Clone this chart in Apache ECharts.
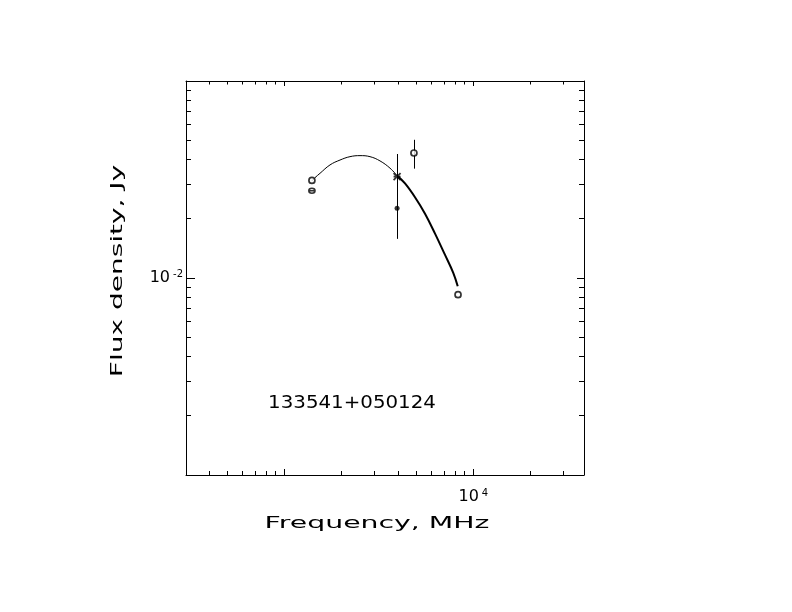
<!DOCTYPE html>
<html><head><meta charset="utf-8">
<script src="https://cdn.jsdelivr.net/npm/echarts@6/dist/echarts.min.js"></script>
<style>html,body{margin:0;padding:0;background:#fff}#c{width:792px;height:612px}</style>
</head><body><div id="c"></div>
<script>
// ---- data ----
const xMin = 302, xMax = 38500;      // MHz
const yMin = 0.001, yMax = 0.1;      // Jy
const xMajorTicks = [1000, 10000];
const xMinorTicks = [400, 500, 600, 700, 800, 900, 2000, 3000, 4000, 5000, 6000, 7000, 8000, 9000, 20000, 30000];
const yMajorTicks = [0.01];
const yMinorTicks = [0.002, 0.003, 0.004, 0.005, 0.006, 0.007, 0.008, 0.009, 0.02, 0.03, 0.04, 0.05, 0.06, 0.07, 0.08, 0.09];
const xLabelValues = [10000];
const yLabelValues = [0.01];

// fitted spectrum curve
const curveThinFreq = [1400, 1453, 1545, 1745, 1971, 2226, 2515, 2840, 3208, 3625, 3996];
const curveThinFlux = [0.0311, 0.0323, 0.0340, 0.0375, 0.0397, 0.0413, 0.0418, 0.0413, 0.0393, 0.0361, 0.0327];
const curveThickFreq = [3996, 4351, 4914, 5552, 6272, 7085, 7840, 8270];
const curveThickFlux = [0.0327, 0.0302, 0.0257, 0.0212, 0.0168, 0.0131, 0.0106, 0.00907];

// measurements
const openFreq = [1400, 4850, 8300];
const openFlux = [0.0313, 0.0431, 0.00823];
const openErr  = [0, 0.0072, 0];
const thetaFreq = [1400];
const thetaFlux = [0.0277];
const starFreq = [3950];
const starFlux = [0.0327];
const starErr  = [0.0099];
const dotFreq = [3950];
const dotFlux = [0.0226];
const dotErr  = [0.0068];

const sourceName = '133541+050124';
const xTitle = 'Frequency, MHz';
const yTitle = 'Flux density, Jy';

// ---- build chart ----
const zip = (a, b) => a.map((v, i) => [v, b[i]]);
const zip3 = (a, b, c) => a.map((v, i) => [v, b[i], c[i]]);
const FONT = 'DejaVu Sans';
const rich = {
  b: {fontSize: 16, fontFamily: FONT, color: '#000', lineHeight: 17},
  s: {fontSize: 10, fontFamily: FONT, color: '#000', lineHeight: 10, verticalAlign: 'top', padding: [0, 0, 0, 3]}
};
const expFmt = v => '{b|10}{s|' + Math.round(Math.log10(v)) + '}';
const G = {left: 186, top: 81, width: 398, height: 394};

function ax(kind, gi, pos, ticks, len, showLine, labels, margin) {
  return {
    type: 'log', logBase: 10, gridIndex: gi, position: pos,
    min: kind === 'x' ? xMin : yMin, max: kind === 'x' ? xMax : yMax,
    splitLine: {show: false},
    axisLine: {show: showLine, lineStyle: {color: '#000', width: 1}},
    axisTick: {show: true, inside: true, length: len, customValues: ticks, lineStyle: {color: '#000', width: 1}},
    axisLabel: labels ? {show: true, customValues: labels, formatter: expFmt, rich: rich, margin: margin} : {show: false}
  };
}

const xAxis = [
  ax('x', 0, 'bottom', xMajorTicks, 6, true, xLabelValues, 13),
  ax('x', 1, 'bottom', xMinorTicks, 4, false),
  ax('x', 2, 'top', xMajorTicks, 5, true),
  ax('x', 3, 'top', xMinorTicks, 3.5, false)
];
const yAxis = [
  ax('y', 0, 'left', yMajorTicks, 9, true, yLabelValues, 3),
  ax('y', 1, 'left', yMinorTicks, 5, false),
  ax('y', 2, 'right', yMajorTicks, 7, true),
  ax('y', 3, 'right', yMinorTicks, 5, false)
];

function errBars(data) {
  return {
    type: 'custom', xAxisIndex: 0, yAxisIndex: 0, z: 3,
    data: data.filter(d => d[2] > 0),
    encode: {x: 0, y: 1},
    renderItem: (params, api) => {
      const x = api.value(0), y = api.value(1), e = api.value(2);
      const p1 = api.coord([x, y - e]), p2 = api.coord([x, y + e]);
      const px = Math.round(p1[0]) + 0.5;
      return {type: 'line', shape: {x1: px, y1: p1[1], x2: px, y2: p2[1]},
              style: {stroke: '#000', lineWidth: 1}};
    }
  };
}

const option = {
  animation: false,
  backgroundColor: '#fff',
  grid: [Object.assign({}, G), Object.assign({}, G), Object.assign({}, G), Object.assign({}, G)],
  xAxis: xAxis,
  yAxis: yAxis,
  series: [
    {type: 'line', xAxisIndex: 0, yAxisIndex: 0, data: zip(curveThinFreq, curveThinFlux),
     showSymbol: false, smooth: 0.4, lineStyle: {color: '#000', width: 1}, z: 2},
    {type: 'line', xAxisIndex: 0, yAxisIndex: 0, data: zip(curveThickFreq, curveThickFlux),
     showSymbol: false, smooth: 0.4, lineStyle: {color: '#000', width: 2}, z: 2},
    errBars(zip3(openFreq, openFlux, openErr)),
    errBars(zip3(starFreq, starFlux, starErr)),
    errBars(zip3(dotFreq, dotFlux, dotErr)),
    {type: 'scatter', xAxisIndex: 0, yAxisIndex: 0, data: zip(openFreq, openFlux), z: 5,
     symbol: 'circle', symbolSize: 6, itemStyle: {color: '#fff', borderColor: '#000', borderWidth: 1.7}},
    {type: 'scatter', xAxisIndex: 0, yAxisIndex: 0, data: zip(thetaFreq, thetaFlux), z: 5,
     symbol: 'path://M0,5A5,5 0 1,1 10,5A5,5 0 1,1 0,5ZM0,5L10,5', symbolSize: [6, 5],
     itemStyle: {color: '#fff', borderColor: '#000', borderWidth: 1.6}},
    {type: 'scatter', xAxisIndex: 0, yAxisIndex: 0, data: zip(starFreq, starFlux), z: 5,
     symbol: 'path://M0,0L10,10M10,0L0,10M0,5L10,5', symbolSize: 7,
     itemStyle: {color: 'none', borderColor: '#000', borderWidth: 1.8}},
    {type: 'scatter', xAxisIndex: 0, yAxisIndex: 0, data: zip(dotFreq, dotFlux), z: 5,
     symbol: 'circle', symbolSize: 5, itemStyle: {color: '#000'}}
  ],
  graphic: [
    {type: 'text', x: 377, y: 524, scaleX: 1.77,
     style: {text: xTitle, fontFamily: FONT, fontSize: 16, fill: '#000', align: 'center', verticalAlign: 'middle'}},
    {type: 'text', x: 118, y: 271, rotation: Math.PI / 2, scaleX: 1.75,
     style: {text: yTitle, fontFamily: FONT, fontSize: 16, fill: '#000', align: 'center', verticalAlign: 'middle'}},
    {type: 'text', x: 352, y: 403, scaleX: 1.1,
     style: {text: sourceName, fontFamily: FONT, fontSize: 18, fill: '#000', align: 'center', verticalAlign: 'middle'}}
  ]
};
const chart = echarts.init(document.getElementById('c'), null, {renderer: 'canvas'});
chart.setOption(option);
</script>
</body></html>
